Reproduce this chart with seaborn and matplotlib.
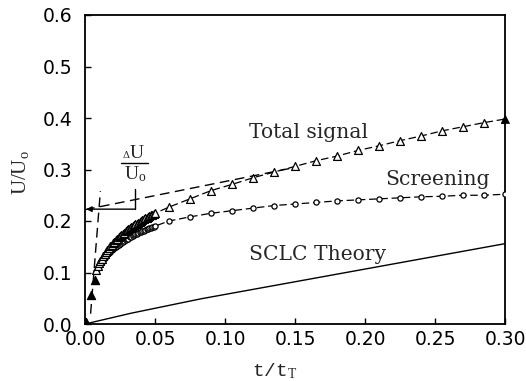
import numpy as np
import pandas as pd
import matplotlib
matplotlib.use("Agg")
import matplotlib.pyplot as plt
import seaborn as sns

# ---------------- data ----------------
t_cluster = [0.008, 0.009, 0.010, 0.011, 0.012, 0.013, 0.014, 0.015, 0.016, 0.017,
             0.018, 0.019, 0.020, 0.021, 0.022, 0.023, 0.024, 0.025, 0.026, 0.027,
             0.028, 0.029, 0.030, 0.031, 0.032, 0.033, 0.034, 0.035, 0.036, 0.037,
             0.038, 0.039, 0.040, 0.041, 0.042, 0.043, 0.044, 0.045, 0.046, 0.047,
             0.048, 0.049, 0.050]
total_cluster = [0.105, 0.112, 0.118, 0.123, 0.127, 0.132, 0.136, 0.140, 0.144, 0.147,
                 0.151, 0.154, 0.157, 0.160, 0.163, 0.165, 0.168, 0.170, 0.173, 0.175,
                 0.177, 0.180, 0.182, 0.184, 0.186, 0.188, 0.190, 0.192, 0.194, 0.195,
                 0.197, 0.198, 0.200, 0.202, 0.203, 0.205, 0.206, 0.208, 0.209, 0.211,
                 0.212, 0.214, 0.215]
screen_cluster = [0.103, 0.108, 0.113, 0.117, 0.121, 0.125, 0.129, 0.132, 0.135, 0.138,
                  0.140, 0.143, 0.145, 0.147, 0.149, 0.151, 0.153, 0.155, 0.157, 0.159,
                  0.161, 0.163, 0.165, 0.166, 0.168, 0.169, 0.171, 0.172, 0.174, 0.175,
                  0.176, 0.178, 0.179, 0.180, 0.181, 0.183, 0.184, 0.185, 0.186, 0.187,
                  0.188, 0.189, 0.190]

t_sparse = [0.060, 0.075, 0.090, 0.105, 0.120, 0.135, 0.150, 0.165, 0.180,
            0.195, 0.210, 0.225, 0.240, 0.255, 0.270, 0.285, 0.300]
total_sparse = [0.227, 0.243, 0.259, 0.271, 0.284, 0.295, 0.306, 0.317, 0.326,
                0.337, 0.346, 0.356, 0.365, 0.375, 0.383, 0.391, 0.398]
screen_sparse = [0.200, 0.208, 0.215, 0.220, 0.225, 0.230, 0.233, 0.236, 0.239,
                 0.241, 0.243, 0.245, 0.247, 0.248, 0.250, 0.250, 0.252]

t_early = [0.001, 0.004, 0.0068]
total_early = [0.003, 0.057, 0.086]

t_sclc = [0.0, 0.033, 0.083, 0.150, 0.225, 0.300]
u_sclc = [0.0, 0.021, 0.049, 0.082, 0.119, 0.156]

x_ticks = [0.00, 0.05, 0.10, 0.15, 0.20, 0.25, 0.30]
y_ticks = [0.0, 0.1, 0.2, 0.3, 0.4, 0.5, 0.6]

# extrapolation lines
t_extrap = [0.0, 0.150]
u_extrap = [0.222, 0.304]
t_jump = [0.004, 0.011]
u_jump = [0.020, 0.258]

# ---------------- figure ----------------
sns.set_style("ticks")
plt.rcParams['font.family'] = ['DejaVu Sans']
plt.rcParams['mathtext.fontset'] = 'custom'
plt.rcParams['mathtext.rm'] = 'Liberation Serif'
plt.rcParams['mathtext.it'] = 'Liberation Serif:italic'

fig = plt.figure(figsize=(5.26, 3.81), dpi=100)
ax = fig.add_axes([85/526, 1 - 324/381, 420/526, 309/381])

df_total = pd.DataFrame({"t": t_cluster + t_sparse, "u": total_cluster + total_sparse})
df_screen = pd.DataFrame({"t": t_cluster + t_sparse, "u": screen_cluster + screen_sparse})
df_sclc = pd.DataFrame({"t": t_sclc, "u": u_sclc})
df_early = pd.DataFrame({"t": t_early, "u": total_early})

# connecting dashed lines
sns.lineplot(data=df_total, x="t", y="u", ax=ax, color="black", lw=0.9,
             estimator=None, sort=False)
ax.lines[-1].set_dashes((6, 3))
sns.lineplot(data=df_screen, x="t", y="u", ax=ax, color="black", lw=0.9,
             estimator=None, sort=False)
ax.lines[-1].set_dashes((6, 3))
sns.lineplot(data=df_sclc, x="t", y="u", ax=ax, color="black", lw=1.0,
             estimator=None, sort=False)
sns.lineplot(x=t_extrap, y=u_extrap, ax=ax, color="black", lw=1.0,
             estimator=None, sort=False)
ax.lines[-1].set_dashes((7, 4))
sns.lineplot(x=t_jump, y=u_jump, ax=ax, color="black", lw=1.0,
             estimator=None, sort=False)
ax.lines[-1].set_dashes((7, 4))

# markers
sns.scatterplot(data=df_screen, x="t", y="u", ax=ax, marker="o", s=14,
                facecolor="white", edgecolor="black", linewidth=0.9, zorder=4)
sns.scatterplot(data=df_total, x="t", y="u", ax=ax, marker="^", s=32,
                facecolor="white", edgecolor="black", linewidth=0.9, zorder=5)
sns.scatterplot(data=df_early, x="t", y="u", ax=ax, marker="^", s=34,
                color="black", edgecolor="black", linewidth=0.9, zorder=5)
sns.scatterplot(x=[t_sparse[-1]], y=[total_sparse[-1]], ax=ax, marker="^", s=34,
                color="black", edgecolor="black", zorder=6, clip_on=False)

# annotation: delta U / U0
ax.annotate("", xy=(0.0008, 0.223), xytext=(0.0357, 0.223),
            arrowprops=dict(arrowstyle="-|>", color="black", lw=1.0,
                            mutation_scale=8, shrinkA=0, shrinkB=0))
sns.lineplot(x=[0.0357, 0.0357], y=[0.223, 0.263], ax=ax, color="black", lw=1.0,
             estimator=None, sort=False)
sns.lineplot(x=[0.0255, 0.0452], y=[0.313, 0.313], ax=ax, color="black", lw=1.0,
             estimator=None, sort=False)
ax.text(0.0318, 0.318, "Δ", fontsize=7, family="DejaVu Serif", ha="right", va="bottom")
ax.text(0.0318, 0.315, "U", fontsize=14, family="Liberation Serif", ha="left", va="bottom")
ax.text(0.0357, 0.310, r"U$_\mathrm{o}$", fontsize=14, family="Liberation Serif",
        ha="center", va="top")

# series labels
ax.text(0.117, 0.362, "Total signal", fontsize=14.6, family="DejaVu Serif",
        ha="left", va="baseline")
ax.text(0.2148, 0.269, "Screening", fontsize=14.6, family="DejaVu Serif",
        ha="left", va="baseline")
ax.text(0.117, 0.124, "SCLC Theory", fontsize=14.6, family="DejaVu Serif",
        ha="left", va="baseline")

ax.set_xlim(0, 0.30)
ax.set_ylim(0, 0.6)
ax.set_xticks(x_ticks)
ax.set_yticks(y_ticks)
ax.set_xticklabels([f"{v:.2f}" for v in x_ticks])
ax.set_yticklabels([f"{v:.1f}" for v in y_ticks])
ax.tick_params(direction="in", length=4.5, width=1.0, labelsize=13.5,
               colors="black")
ax.tick_params(axis="x", pad=4)
ax.tick_params(axis="y", pad=9)
for sp in ax.spines.values():
    sp.set_visible(True)
    sp.set_linewidth(1.3)
    sp.set_color("black")

ax.set_xlabel(r"t/t$_\mathrm{T}$", fontsize=14, family="Liberation Mono")
ax.set_ylabel(r"U/U$_\mathrm{o}$", fontsize=15, family="Liberation Serif")
ax.xaxis.set_label_coords((275 - 85) / 420, (324 - 361) / 309)
ax.yaxis.set_label_coords((31 - 85) / 420, (324 - 173) / 309)

fig.savefig("out.png", dpi=100)
